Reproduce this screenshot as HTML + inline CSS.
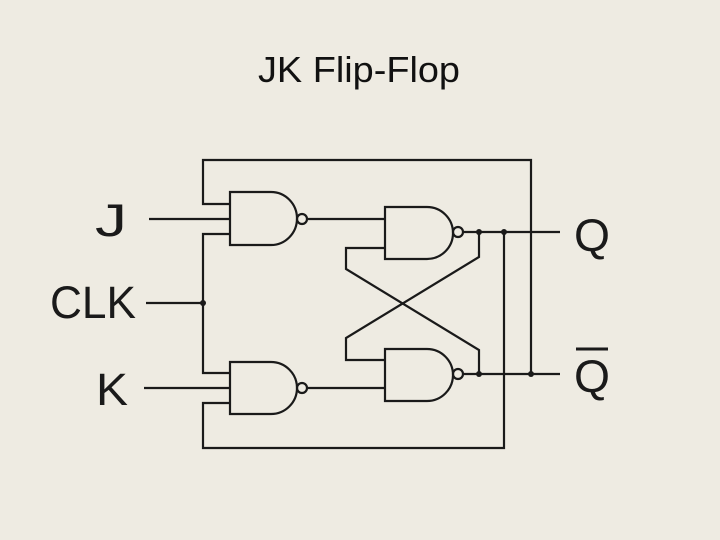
<!DOCTYPE html>
<html><head><style>
html,body{margin:0;padding:0;background:#eeebe2;}
svg{display:block;}
</style></head><body>
<svg width="720" height="540" viewBox="0 0 720 540" xmlns="http://www.w3.org/2000/svg">
<rect width="720" height="540" fill="#eeebe2"/>
<text x="258" y="82" font-family="Liberation Sans, sans-serif" font-size="36" fill="#111" textLength="202" lengthAdjust="spacingAndGlyphs">JK Flip-Flop</text>
<g font-family="Liberation Sans, sans-serif" font-size="45" fill="#1a1a1a">
<text x="95" y="236" textLength="32" lengthAdjust="spacingAndGlyphs">J</text>
<text x="50" y="318" textLength="86" lengthAdjust="spacingAndGlyphs">CLK</text>
<text x="96" y="405" textLength="32" lengthAdjust="spacingAndGlyphs">K</text>
<text x="574" y="251" textLength="36" lengthAdjust="spacingAndGlyphs">Q</text>
<text x="574" y="392" textLength="36" lengthAdjust="spacingAndGlyphs">Q</text>
</g>
<line x1="576" y1="349" x2="608" y2="349" stroke="#1a1a1a" stroke-width="3"/>
<g fill="none" stroke="#1a1a1a" stroke-width="2.2">
<path d="M230 192 H271 A26 26.5 0 0 1 271 245 H230 Z"/>
<path d="M230 362 H271 A26 26 0 0 1 271 414 H230 Z"/>
<path d="M385 207 H427 A26 26 0 0 1 427 259 H385 Z"/>
<path d="M385 349 H427 A26 26 0 0 1 427 401 H385 Z"/>
<circle cx="302" cy="219" r="5"/>
<circle cx="302" cy="388" r="5"/>
<circle cx="458" cy="232" r="5"/>
<circle cx="458" cy="374" r="5"/>
<line x1="149" y1="219" x2="230" y2="219"/>
<line x1="146" y1="303" x2="203" y2="303"/>
<line x1="144" y1="388" x2="230" y2="388"/>
<polyline points="230,204 203,204 203,160 531,160 531,374"/>
<polyline points="230,234 203,234 203,373 230,373"/>
<polyline points="230,403 203,403 203,448 504,448 504,232"/>
<line x1="307" y1="219" x2="385" y2="219"/>
<line x1="307" y1="388" x2="385" y2="388"/>
<line x1="463" y1="232" x2="560" y2="232"/>
<line x1="463" y1="374" x2="560" y2="374"/>
<polyline points="385,248 346,248 346,269 479,350 479,374"/>
<polyline points="479,232 479,257 346,338 346,360 385,360"/>
</g>
<g fill="#1a1a1a">
<circle cx="203" cy="303" r="3"/>
<circle cx="479" cy="232" r="3"/>
<circle cx="504" cy="232" r="3"/>
<circle cx="479" cy="374" r="3"/>
<circle cx="531" cy="374" r="3"/>
</g>
</svg>
</body></html>
